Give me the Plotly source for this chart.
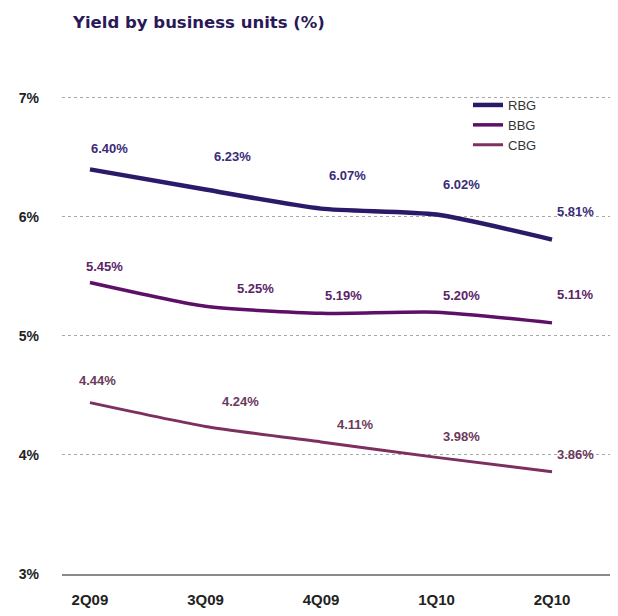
import plotly.graph_objects as go

# Quarterly yield by business unit (%)
quarters = ["2Q09", "3Q09", "4Q09", "1Q10", "2Q10"]
rbg = [6.40, 6.23, 6.07, 6.02, 5.81]
bbg = [5.45, 5.25, 5.19, 5.20, 5.11]
cbg = [4.44, 4.24, 4.11, 3.98, 3.86]
y_ticks = [3, 4, 5, 6, 7]
y_tick_text = ["3%", "4%", "5%", "6%", "7%"]

series = [
    ("RBG", rbg, "#2b1a6a", 4.5, "#3a2c78",
     [20, 27, 27, 25, 23], [21, 33, 33, 30, 28]),
    ("BBG", bbg, "#5e0f68", 3.5, "#5a2468",
     [15, 50, 23, 25, 23], [16, 18, 18, 17, 28]),
    ("CBG", cbg, "#7d2f60", 3.0, "#6a3a5c",
     [8, 35, 35, 25, 23], [22, 25, 17, 21, 17]),
]

M_L, M_R, M_T, M_B = 62, 8, 92, 42
W, H = 618, 616
PW, PH = W - M_L - M_R, H - M_T - M_B

fig = go.Figure()
annotations = []
for name, vals, color, width, lab_color, xs, ys in series:
    fig.add_trace(go.Scatter(
        x=quarters, y=vals, name=name, mode="lines",
        line=dict(color=color, width=width, shape="spline", smoothing=0.6),
    ))
    for q, v, dx, dy in zip(quarters, vals, xs, ys):
        annotations.append(dict(
            x=q, y=v, xref="x", yref="y", text=f"{v:.2f}%",
            showarrow=False, xshift=dx, yshift=dy,
            font=dict(family="Liberation Sans", size=13, color=lab_color, weight="bold"),
        ))

annotations.append(dict(
    x=(70 - M_L) / PW, y=1 + (M_T - 22) / PH, xref="paper", yref="paper",
    text="Yield by business units (%)",
    showarrow=False, xanchor="left", yanchor="middle",
    font=dict(family="DejaVu Sans", size=16.5, color="#2a1858", weight="bold"),
))

fig.update_layout(
    width=W, height=H,
    margin=dict(l=M_L, r=M_R, t=M_T, b=M_B),
    paper_bgcolor="white", plot_bgcolor="white",
    showlegend=True,
    legend=dict(
        x=(468 - M_L) / PW, y=1 - (90 - M_T) / PH, xanchor="left", yanchor="top",
        bgcolor="rgba(0,0,0,0)", tracegroupgap=0, itemwidth=30,
        font=dict(family="Liberation Sans", size=13, color="#333333"),
    ),
    annotations=annotations,
    xaxis=dict(
        type="category", range=[-0.242, 4.502],
        showgrid=False, showline=True, linecolor="#8a8a8a", linewidth=2,
        ticks="", ticklabelstandoff=11,
        tickfont=dict(family="Liberation Sans", size=15, color="#222222", weight="bold"),
    ),
    yaxis=dict(
        range=[3, 7.05], tickvals=y_ticks, ticktext=y_tick_text,
        showgrid=True, gridcolor="#a8a8a8", griddash="dot", gridwidth=1,
        zeroline=False, showline=False, ticks="", ticklabelstandoff=22,
        tickfont=dict(family="Liberation Sans", size=14, color="#222222", weight="bold"),
    ),
)

fig.write_html("out.html")
